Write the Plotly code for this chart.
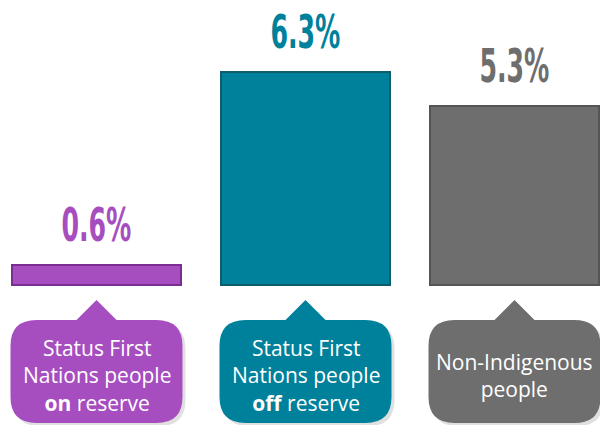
import plotly.graph_objects as go

categories = ["Status First Nations people on reserve",
              "Status First Nations people off reserve",
              "Non-Indigenous people"]
values = [0.6, 6.3, 5.3]
value_labels = ["0.6%", "6.3%", "5.3%"]
callout_text = ["Status First<br>Nations people<br><b>on</b> reserve",
                "Status First<br>Nations people<br><b>off</b> reserve",
                "Non-Indigenous<br>people"]
fills = ["#A64EC0", "#00819B", "#6E6E6E"]
borders = ["#7A2E91", "#0E5C6C", "#555555"]

W, H = 600, 425
X_PX0, X_STEP = 96.5, 209.0      # pixel centre of first category, spacing
Y_BASE, Y_SCALE = 285.0, 33.8    # baseline pixel, pixels per unit
xr = [-X_PX0 / X_STEP, (W - X_PX0) / X_STEP]
yr = [-(H - Y_BASE) / Y_SCALE, Y_BASE / Y_SCALE]
bar_w = 169 / X_STEP

xs = list(range(len(categories)))

fig = go.Figure()
fig.add_trace(go.Bar(
    x=xs, y=values, width=bar_w,
    marker=dict(color=fills, line=dict(color=borders, width=2)),
    hoverinfo="skip", showlegend=False,
))


def callout_path(cx, top, bottom, half_w, r, tip_h, tip_hw, dx=0, dy=0):
    def P(px, py):
        return f"{(px + dx) / W:.5f},{1 - (py + dy) / H:.5f}"
    l, rr = cx - half_w, cx + half_w
    t, b = top, bottom
    d = (f"M {P(l + r, t)} L {P(cx - tip_hw, t)} L {P(cx, t - tip_h)} "
         f"L {P(cx + tip_hw, t)} L {P(rr - r, t)} "
         f"Q {P(rr, t)} {P(rr, t + r)} L {P(rr, b - r)} Q {P(rr, b)} {P(rr - r, b)} "
         f"L {P(l + r, b)} Q {P(l, b)} {P(l, b - r)} L {P(l, t + r)} Q {P(l, t)} {P(l + r, t)} Z")
    return d


for i, x in enumerate(xs):
    cx = X_PX0 + X_STEP * x
    fig.add_shape(type="path", xref="paper", yref="paper",
                  path=callout_path(cx, 320, 423, 86, 26, 20, 20, dx=3, dy=3),
                  fillcolor="rgba(0,0,0,0.12)", line=dict(width=0), layer="below")
    fig.add_shape(type="path", xref="paper", yref="paper",
                  path=callout_path(cx, 320, 423, 86, 26, 20, 20),
                  fillcolor=fills[i], line=dict(width=0), layer="below")
    fig.add_annotation(x=x, y=values[i], xref="x", yref="y", text=value_labels[i],
                       showarrow=False, xanchor="center", yanchor="middle", yshift=40,
                       font=dict(family="DejaVu Sans Condensed", size=46,
                                 color=fills[i], weight="bold"))
    fig.add_annotation(x=cx / W, y=1 - 375 / H, xref="paper", yref="paper",
                       text=callout_text[i], showarrow=False, align="center",
                       xanchor="center", yanchor="middle",
                       font=dict(family="Open Sans", size=21, color="white"))

fig.update_layout(
    width=W, height=H, margin=dict(l=0, r=0, t=0, b=0),
    paper_bgcolor="white", plot_bgcolor="white",
    xaxis=dict(range=xr, visible=False, fixedrange=True),
    yaxis=dict(range=yr, visible=False, fixedrange=True),
    bargap=0,
)

post = """
document.body.style.margin = '0';
var gd = document.getElementById('{plot_id}');
gd.querySelectorAll('.annotation text').forEach(function (t) {
  if (t.textContent.indexOf('%') >= 0) {
    t.style.transformBox = 'fill-box';
    t.style.transformOrigin = 'center';
    t.style.transform = 'scaleX(0.61)';
  }
});
"""
fig.write_html("out.html", post_script=post, config={"displayModeBar": False})
